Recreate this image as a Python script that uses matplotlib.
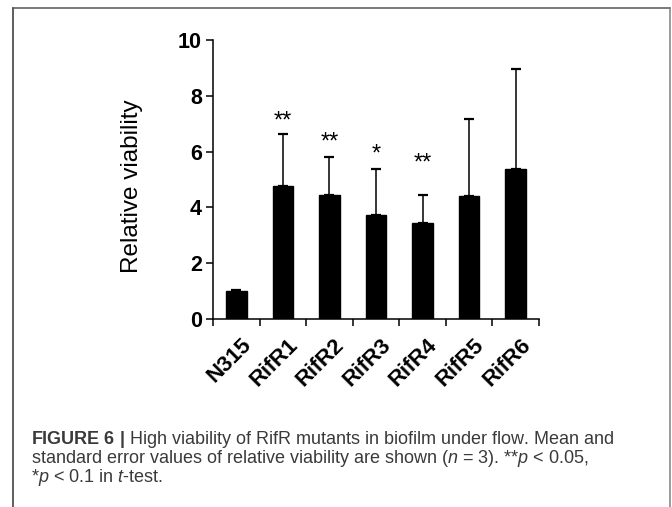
import matplotlib
matplotlib.use("Agg")
import matplotlib.pyplot as plt
from matplotlib.lines import Line2D
import matplotlib.transforms as mtransforms

# ---- data ----
categories = ['N315', 'RifR1', 'RifR2', 'RifR3', 'RifR4', 'RifR5', 'RifR6']
means = [1.0, 4.77, 4.43, 3.73, 3.43, 4.42, 5.37]
sem = [0.05, 1.86, 1.39, 1.66, 1.02, 2.76, 3.59]
stars = ['', '**', '**', '*', '**', '', '']
y_ticks = [0, 2, 4, 6, 8, 10]
y_label = 'Relative viability'
caption_lines = [
    r"$\mathbf{FIGURE\ 6\ |}$ High viability of RifR mutants in biofilm under flow. Mean and",
    r"standard error values of relative viability are shown ($n$ = 3). **$p$ < 0.05,",
    r"*$p$ < 0.1 in $t$-test.",
]

plt.rcParams['font.family'] = ['Liberation Sans', 'DejaVu Sans']
plt.rcParams['mathtext.fontset'] = 'custom'
plt.rcParams['mathtext.rm'] = 'Liberation Sans'
plt.rcParams['mathtext.it'] = 'Liberation Sans:italic'
plt.rcParams['mathtext.bf'] = 'Liberation Sans:bold'

W, H = 672, 507
fig = plt.figure(figsize=(W / 100, H / 100), dpi=100)
fig.patch.set_facecolor('white')

def fx(px):
    return px / W

def fy(py):
    return 1 - py / H

ax = fig.add_axes([fx(213), fy(319), fx(539) - fx(213), fy(40) - fy(319)])

x = list(range(len(categories)))
ax.bar(x, means, width=0.44, color='black', edgecolor='black', zorder=2)
ax.errorbar(x, means, yerr=[[0] * len(sem), sem], fmt='none', ecolor='black',
            elinewidth=1.1, capsize=3.5, capthick=1.6, zorder=1)

star_offsets_pt = [0, 5, 6, 6, 18, 0, 0]
for xi, m, s, st, off in zip(x, means, sem, stars, star_offsets_pt):
    if st:
        ax.annotate(st, xy=(xi, m + s), xytext=(0, off), textcoords='offset points',
                    ha='center', va='baseline', fontsize=17, color='black')

ax.set_xlim(-0.5, len(categories) - 0.5)
ax.set_ylim(0, 10)
ax.set_yticks(y_ticks)
ax.set_yticklabels([str(t) for t in y_ticks], fontsize=15.5, fontweight='bold')
ax.set_xticks(x)
ax.set_xticklabels(categories, fontsize=16, fontweight='bold')
ax.set_xticks([i - 0.5 for i in range(len(categories) + 1)], minor=True)
ax.tick_params(axis='x', which='major', length=0, pad=11)
ax.tick_params(axis='x', which='minor', length=5, width=1.1, direction='out')
ax.tick_params(axis='y', length=5, width=1.1, pad=3)
offset = mtransforms.ScaledTranslation(3 / 72, 0, fig.dpi_scale_trans)
for lab in ax.get_xticklabels():
    lab.set_rotation(45)
    lab.set_ha('right')
    lab.set_va('top')
    lab.set_rotation_mode('anchor')
    lab.set_transform(lab.get_transform() + offset)

for side in ['top', 'right']:
    ax.spines[side].set_visible(False)
for side in ['left', 'bottom']:
    ax.spines[side].set_linewidth(1.1)

ax.set_ylabel(y_label, fontsize=17.5)
ax.yaxis.set_label_coords(-0.215, 0.477)

# caption: one multi-line text, top-anchored
fig.text(fx(31), fy(429), "\n".join(caption_lines), fontsize=13.0, color='#3a3a3a',
         va='top', ha='left', linespacing=0.87)

# frame
fig.add_artist(Line2D([fx(13), fx(13)], [fy(507), fy(8)], color='#333333', lw=1.1))
fig.add_artist(Line2D([fx(13), fx(670)], [fy(8), fy(8)], color='#555555', lw=1.1))
fig.add_artist(Line2D([fx(670), fx(670)], [fy(8), fy(507)], color='#808080', lw=1.1))

fig.savefig('out.png', dpi=100, facecolor='white')
